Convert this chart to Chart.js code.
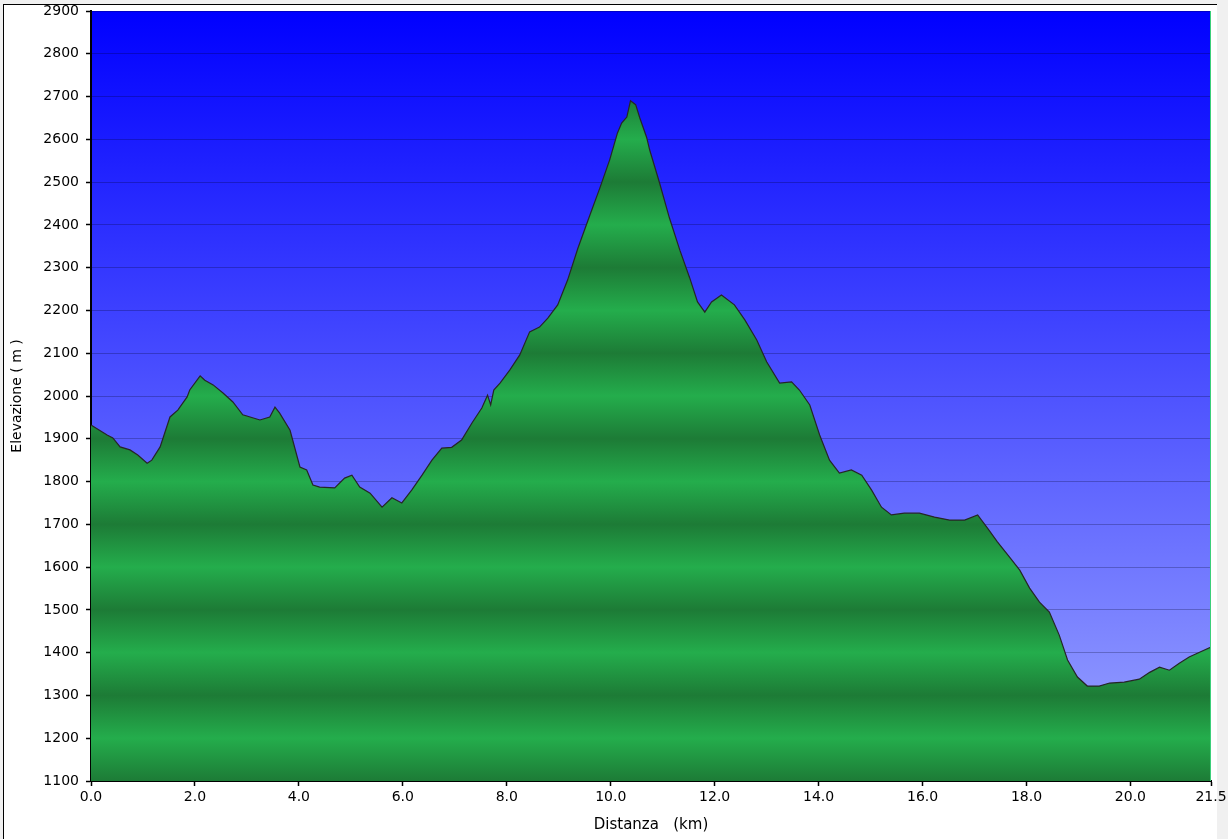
<!DOCTYPE html>
<html>
<head>
<meta charset="utf-8">
<script src="https://cdn.jsdelivr.net/npm/chart.js@4"></script>
<style>
  html, body { margin: 0; padding: 0; background: #f0f0f0; }
  #frame { position: absolute; left: 3px; top: 4px; width: 1213px; height: 835px; background: #fff; border-left: 1px solid #000; border-top: 1px solid #000; }
  #wrap { position: absolute; left: 0; top: 0; width: 1228px; height: 839px; }
</style>
</head>
<body>
<div id="frame"></div>
<div id="wrap"><canvas id="profilo"></canvas></div>
<script>
const distanze = [0.00, 0.31, 0.42, 0.56, 0.75, 0.90, 1.08, 1.17, 1.33, 1.52, 1.67, 1.85, 1.90, 2.10, 2.19, 2.35, 2.54, 2.73, 2.92, 3.25,
  3.44, 3.54, 3.63, 3.83, 4.02, 4.15, 4.27, 4.40, 4.69, 4.88, 5.02, 5.17, 5.37, 5.60, 5.79, 5.98, 6.17, 6.37, 6.56, 6.75,
  6.94, 7.13, 7.33, 7.52, 7.63, 7.69, 7.75, 7.87, 8.06, 8.25, 8.44, 8.63, 8.79, 8.98, 9.17, 9.37, 9.60, 9.79, 9.98, 10.13,
  10.21, 10.31, 10.38, 10.48, 10.56, 10.69, 10.75, 10.94, 11.13, 11.33, 11.52, 11.67, 11.81, 11.94, 12.13, 12.38, 12.58, 12.81, 13.00, 13.25,
  13.48, 13.63, 13.83, 14.02, 14.21, 14.40, 14.63, 14.83, 15.02, 15.21, 15.40, 15.65, 15.94, 16.23, 16.52, 16.81, 17.06, 17.25, 17.44, 17.67,
  17.87, 18.06, 18.25, 18.44, 18.63, 18.79, 18.98, 19.17, 19.40, 19.60, 19.88, 20.17, 20.37, 20.56, 20.75, 20.94, 21.13, 21.33, 21.55];
const quote = [1932, 1909, 1902, 1881, 1874, 1862, 1843, 1850, 1881, 1951, 1967, 1998, 2014, 2047, 2037, 2026, 2007, 1986, 1956, 1944,
  1951, 1974, 1960, 1920, 1834, 1827, 1792, 1787, 1785, 1808, 1815, 1787, 1773, 1740, 1762, 1750, 1780, 1815, 1850, 1878,
  1880, 1897, 1937, 1972, 2002, 1979, 2014, 2030, 2061, 2096, 2150, 2161, 2182, 2213, 2271, 2346, 2423, 2486, 2552, 2615,
  2638, 2652, 2690, 2681, 2650, 2605, 2575, 2498, 2416, 2341, 2276, 2220, 2196, 2220, 2236, 2213, 2178, 2131, 2080, 2030,
  2033, 2014, 1979, 1909, 1850, 1820, 1827, 1815, 1780, 1740, 1722, 1726, 1726, 1717, 1710, 1710, 1722, 1691, 1659, 1624,
  1593, 1551, 1518, 1495, 1441, 1383, 1343, 1322, 1322, 1329, 1331, 1338, 1354, 1366, 1359, 1375, 1390, 1401, 1413];

const tickX = [0, 2, 4, 6, 8, 10, 12, 14, 16, 18, 20, 21.55];
const tickY = [1100, 1200, 1300, 1400, 1500, 1600, 1700, 1800, 1900, 2000, 2100, 2200, 2300, 2400, 2500, 2600, 2700, 2800, 2900];

const verdeChiaro = '#24ad4c';
const verdeScuro = '#1d7b36';
const font = 'DejaVu Sans';

// riempimento a bande: chiaro sulle centinaia pari, scuro su quelle dispari
function fillBande(context) {
  const chart = context.chart;
  const area = chart.chartArea;
  if (!area) return verdeChiaro;
  const y = chart.scales.y;
  const g = chart.ctx.createLinearGradient(0, area.top, 0, area.bottom);
  tickY.forEach(v => {
    const pos = (y.getPixelForValue(v) - area.top) / (area.bottom - area.top);
    g.addColorStop(Math.min(1, Math.max(0, pos)), v % 200 === 0 ? verdeChiaro : verdeScuro);
  });
  return g;
}

const sfondo = {
  id: 'sfondo',
  beforeDraw(chart) {
    const { ctx, chartArea: a } = chart;
    const g = ctx.createLinearGradient(0, a.top, 0, a.bottom);
    g.addColorStop(0, '#0000ff');
    g.addColorStop(1, '#9ca6ff');
    ctx.save();
    ctx.fillStyle = g;
    ctx.fillRect(a.left, a.top, a.right - a.left, a.bottom - a.top);
    ctx.restore();
  },
  afterDatasetsDraw(chart) {
    const { ctx, chartArea: a } = chart;
    ctx.save();
    ctx.strokeStyle = '#3ccf7a';
    ctx.lineWidth = 1;
    ctx.beginPath();
    ctx.moveTo(a.right - 0.5, a.top);
    ctx.lineTo(a.right - 0.5, a.bottom);
    ctx.stroke();
    ctx.restore();
  }
};

new Chart(document.getElementById('profilo'), {
  type: 'line',
  data: {
    datasets: [{
      data: distanze.map((d, i) => ({ x: d, y: quote[i] })),
      borderColor: '#262626',
      borderWidth: 1.2,
      backgroundColor: fillBande,
      fill: 'start',
      pointRadius: 0,
      tension: 0
    }]
  },
  plugins: [sfondo],
  options: {
    responsive: true,
    maintainAspectRatio: false,
    animation: false,
    layout: { padding: { left: 0, top: 11, right: 17, bottom: 0 } },
    plugins: { legend: { display: false }, tooltip: { enabled: false } },
    scales: {
      x: {
        type: 'linear',
        min: 0,
        max: 21.55,
        afterBuildTicks: s => { s.ticks = tickX.map(v => ({ value: v })); },
        afterFit: s => { s.height = 58; s.paddingLeft = 0; s.paddingRight = 0; },
        ticks: {
          color: '#000',
          font: { family: font, size: 14 },
          padding: 3,
          maxRotation: 0,
          autoSkip: false,
          callback: v => v === 21.55 ? '21.5' : Number(v).toFixed(1)
        },
        grid: { drawOnChartArea: false, tickLength: 5, tickColor: '#000', tickWidth: 1.5 },
        border: { color: '#000', width: 2 },
        title: { display: true, text: 'Distanza   (km)', color: '#000', font: { family: font, size: 15 }, padding: { top: 0, bottom: 5 } }
      },
      y: {
        min: 1100,
        max: 2900,
        z: 1,
        afterBuildTicks: s => { s.ticks = tickY.map(v => ({ value: v })); },
        afterFit: s => { s.width = 91; s.paddingTop = 0; s.paddingBottom = 0; },
        ticks: { color: '#000', font: { family: font, size: 14 }, padding: 7, autoSkip: false, callback: v => String(v) },
        grid: { color: 'rgba(0,0,30,0.25)', lineWidth: 1, tickLength: 5, tickColor: '#000', tickWidth: 1.5 },
        border: { color: '#000', width: 2 },
        title: { display: true, text: 'Elevazione ( m )', color: '#000', font: { family: font, size: 14 }, padding: { top: 9, bottom: 0 } }
      }
    }
  }
});
</script>
</body>
</html>
